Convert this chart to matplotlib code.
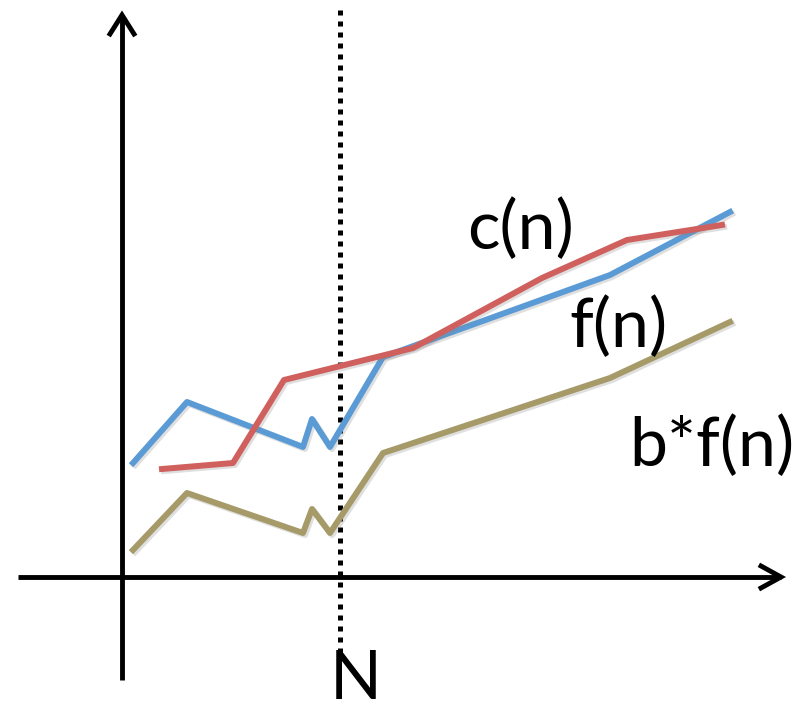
import numpy as np
import matplotlib.pyplot as plt
import matplotlib.patheffects as pe

# data (x measured from the vertical axis, y from the horizontal axis)
n = [11, 65, 181, 190, 208, 261, 488, 608]
f_n = [114, 175, 130, 158, 130, 220, 302, 365]
bf_n = [27, 84, 44, 68, 44, 124, 199, 255]
n_c = [40, 111, 162, 291, 420, 505, 600]
c_n = [108, 114, 197, 229, 299, 337, 352]
N = 218

plt.rcParams['font.family'] = ['Lato', 'DejaVu Sans']

fig = plt.figure(figsize=(8.1, 7.09), dpi=100)
ax = fig.add_axes([0, 0, 1, 1])
ax.set_xlim(-122, 688)
ax.set_ylim(-132, 577)
ax.axis('off')

shadow = [pe.SimpleLineShadow(offset=(1.5, -1.5), shadow_color='gray', alpha=0.25), pe.Normal()]

# axes with open arrowheads
ax.plot([0, 0], [-103, 562], color='black', lw=3.5, solid_capstyle='butt')
ax.plot([-12, 0, 12], [543, 562, 543], color='black', lw=3.5, solid_joinstyle='miter')
ax.plot([-104, 659], [0, 0], color='black', lw=3.5, solid_capstyle='butt')
ax.plot([639, 659, 639], [11, 0, -11], color='black', lw=3.5, solid_joinstyle='miter')

# dotted threshold line
ax.plot([N, N], [-76, 569], color='black', lw=3.6, linestyle=(0, (1.0, 1.2)),
        dash_capstyle='butt')

# curves
ax.plot(n, f_n, color='#5b9bd5', lw=4.3, path_effects=shadow)
ax.plot(n, bf_n, color='#a59a68', lw=4.3, path_effects=shadow)
ax.plot(n_c, c_n, color='#d0605e', lw=4.3, path_effects=shadow)

# labels
fs = 49
ax.text(398, 347, 'c(n)', fontsize=fs, ha='center', va='center')
ax.text(496, 249, 'f(n)', fontsize=fs, ha='center', va='center')
ax.text(590, 130, 'b*f(n)', fontsize=fs, ha='center', va='center')
ax.text(N + 16, -103, 'N', fontsize=fs, ha='center', va='center')

fig.savefig('out.png', dpi=100)
